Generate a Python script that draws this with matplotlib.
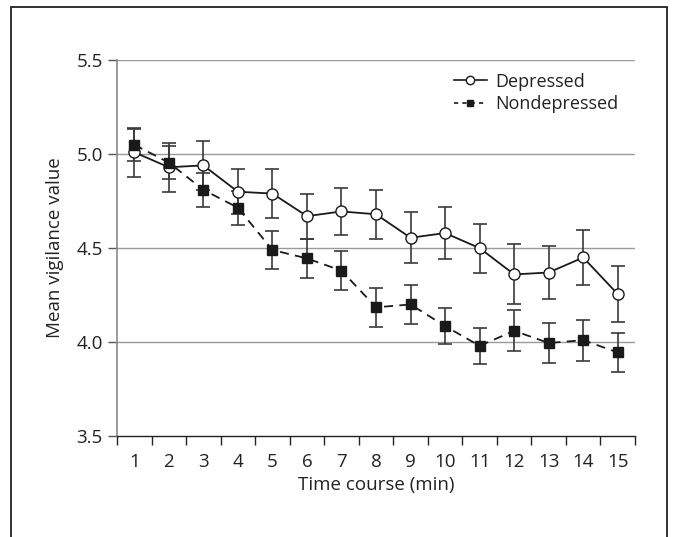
import matplotlib
matplotlib.use("Agg")
import matplotlib.pyplot as plt
from matplotlib.patches import Rectangle
from matplotlib.lines import Line2D

plt.rcParams['font.family'] = ['Open Sans', 'DejaVu Sans']

# time course (minutes)
minutes = list(range(1, 16))

# mean vigilance values
depressed = [5.01, 4.93, 4.94, 4.80, 4.79, 4.67, 4.695, 4.68, 4.555, 4.58, 4.50, 4.36, 4.37, 4.45, 4.255]
depressed_err = [0.13, 0.13, 0.13, 0.12, 0.13, 0.12, 0.125, 0.13, 0.135, 0.14, 0.13, 0.16, 0.14, 0.145, 0.15]

nondepressed = [5.05, 4.955, 4.81, 4.715, 4.49, 4.445, 4.38, 4.185, 4.20, 4.085, 3.98, 4.06, 3.995, 4.01, 3.945]
nondepressed_err = [0.085, 0.09, 0.09, 0.09, 0.10, 0.105, 0.105, 0.105, 0.105, 0.097, 0.095, 0.11, 0.105, 0.11, 0.105]

y_ticks = [3.5, 4.0, 4.5, 5.0, 5.5]


fig = plt.figure(figsize=(6.78, 5.37), dpi=100)
ax = fig.add_axes([0.1726, 0.188, 0.7640, 0.700])

# grid lines at the y ticks
for yv in y_ticks[1:]:
    ax.axhline(yv, color='#9a9a9a', lw=1.0, zorder=0)

ax.errorbar(minutes, depressed, yerr=depressed_err, fmt='none', ecolor='#3a3a3a',
            elinewidth=1.2, capsize=5, capthick=1.2, zorder=2)
ax.errorbar(minutes, nondepressed, yerr=nondepressed_err, fmt='none', ecolor='#3a3a3a',
            elinewidth=1.2, capsize=5, capthick=1.2, zorder=2)

ax.plot(minutes, depressed, '-', color='#1a1a1a', lw=1.3, marker='o', ms=8,
        mfc='white', mec='#1a1a1a', mew=1.0, zorder=3)
ax.plot(minutes, nondepressed, '--', color='#1a1a1a', lw=1.3, dashes=(5, 3.5), marker='s', ms=7,
        mfc='#1a1a1a', mec='#1a1a1a', zorder=4)

ax.set_xlim(0.5, 15.5)
ax.set_ylim(3.5, 5.5)

# ticks between categories, labels at centres
ax.set_xticks([m - 0.5 for m in minutes] + [15.5])
ax.set_xticklabels([])
ax.set_xticks(minutes, minor=True)
ax.set_xticklabels([str(m) for m in minutes], minor=True)
ax.tick_params(axis='x', which='major', direction='out', length=6.3, width=1, color='#222222')
ax.tick_params(axis='x', which='minor', length=0, pad=12, labelsize=13.5, labelcolor='#222222')

ax.set_yticks(y_ticks)
ax.set_yticklabels([f'{v:.1f}' for v in y_ticks])
ax.tick_params(axis='y', direction='out', length=6.3, width=1, color='#555555',
               labelsize=13.5, labelcolor='#222222', pad=4)

for s in ['top', 'right']:
    ax.spines[s].set_visible(False)
ax.spines['left'].set_color('#8a8a8a')
ax.spines['left'].set_linewidth(1.2)
ax.spines['bottom'].set_color('#222222')
ax.spines['bottom'].set_linewidth(1.0)

ax.set_xlabel('Time course (min)', fontsize=13.5, color='#222222', labelpad=4)
ax.set_ylabel('Mean vigilance value', fontsize=13.5, color='#222222', labelpad=9)

handles = [
    Line2D([], [], color='#1a1a1a', lw=1.2, marker='o', ms=6, mfc='white', mec='#1a1a1a'),
    Line2D([], [], color='#1a1a1a', lw=1.2, ls='--', dashes=(2.5, 2.5), marker='s', ms=5, mfc='#1a1a1a'),
]
ax.legend(handles, ['Depressed', 'Nondepressed'], loc='upper right', bbox_to_anchor=(1.0, 1.01),
          frameon=False, fontsize=13, handlelength=1.8, handletextpad=0.5, labelspacing=0.25,
          labelcolor='#222222')

# outer frame around the figure (bottom edge falls outside the image)
fig.patches.append(Rectangle((11 / 678, -0.05), (667 - 11) / 678, 1 - 7 / 537 + 0.05,
                             transform=fig.transFigure, fill=False, lw=1.3, ec='#222222'))

fig.savefig('out.png', dpi=100)
